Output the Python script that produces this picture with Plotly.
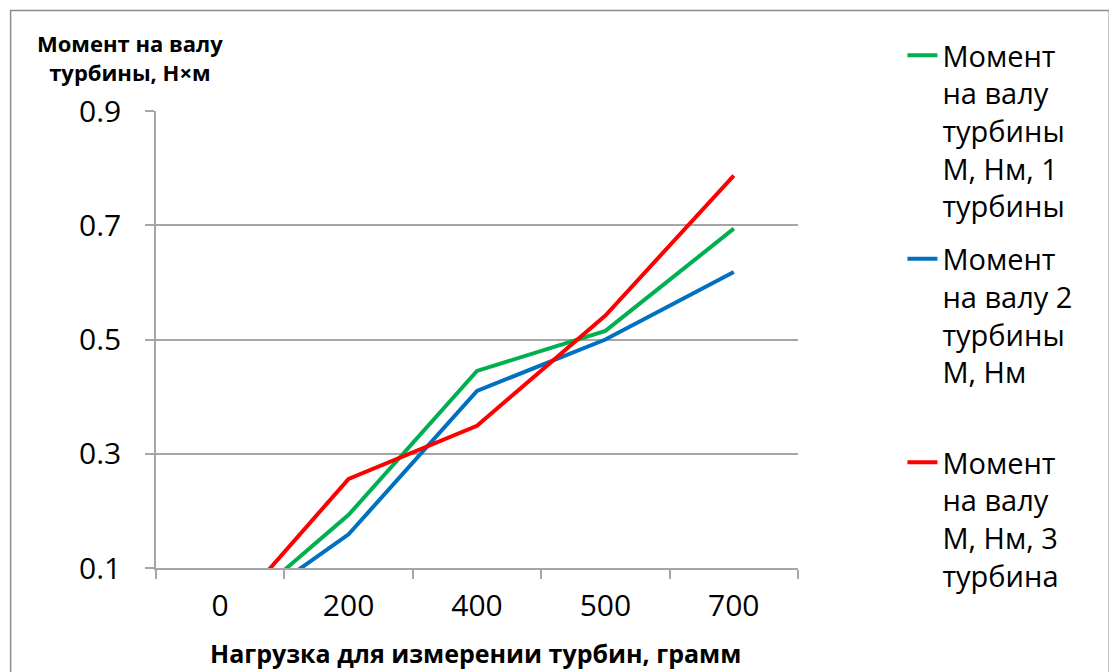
import plotly.graph_objects as go

# Load values (grams) and shaft torque readings (N·m) for the three turbines
loads = ["0", "200", "400", "500", "700"]
torque_t1 = [0.0, 0.193, 0.445, 0.515, 0.694]
torque_t2 = [0.0, 0.159, 0.410, 0.500, 0.618]
torque_t3 = [0.0, 0.256, 0.349, 0.542, 0.787]

series_names = [
    "Момент<br>на валу<br>турбины<br>М, Нм, 1<br>турбины",
    "Момент<br>на валу 2<br>турбины<br>М, Нм<br> ",
    "Момент<br>на валу<br>М, Нм, 3<br>турбина",
]
series_colors = ["#00B050", "#0070C0", "#FF0000"]
y_ticks = [0.1, 0.3, 0.5, 0.7, 0.9]

W, H = 1109, 672
L, R, T, B = 156, 310.5, 111, 104
plot_w = W - L - R
plot_h = H - T - B


def px_x(p):
    return (p - L) / plot_w


def px_y(p):
    return (H - B - p) / plot_h


fig = go.Figure()
for i, (vals, name, color) in enumerate(
    zip([torque_t1, torque_t2, torque_t3], series_names, series_colors)
):
    fig.add_trace(
        go.Scatter(
            x=loads,
            y=vals,
            mode="lines",
            name=name,
            legendgroup=f"g{i}",
            line=dict(color=color, width=4),
        )
    )

grid_color = "#A6A6A6"
tick_font = dict(family="Open Sans", size=30, color="#000000")

fig.update_layout(
    width=W,
    height=H,
    margin=dict(l=L, r=R, t=T, b=B),
    paper_bgcolor="white",
    plot_bgcolor="white",
    showlegend=True,
    legend=dict(
        x=px_x(903),
        y=px_y(30),
        xanchor="left",
        yanchor="top",
        valign="top",
        maxheight=660,
        font=dict(family="Open Sans", size=29, color="#000000"),
        tracegroupgap=12,
        bgcolor="rgba(0,0,0,0)",
    ),
    xaxis=dict(
        type="category",
        categoryorder="array",
        categoryarray=loads,
        range=[-0.5, 4.5],
        showgrid=False,
        showline=True,
        linecolor=grid_color,
        linewidth=1.5,
        ticks="outside",
        tickson="boundaries",
        ticklen=9,
        tickcolor=grid_color,
        tickwidth=1.5,
        tickfont=tick_font,
        ticklabelstandoff=10,
        zeroline=False,
    ),
    yaxis=dict(
        range=[0.1, 0.9],
        tickvals=y_ticks,
        ticktext=[f"{v:.1f}" for v in y_ticks],
        showgrid=True,
        gridcolor=grid_color,
        gridwidth=1.5,
        showline=True,
        linecolor=grid_color,
        linewidth=1.5,
        ticks="outside",
        ticklen=9,
        tickcolor=grid_color,
        tickwidth=1.5,
        tickfont=tick_font,
        ticklabelstandoff=18,
        zeroline=False,
    ),
    annotations=[
        dict(
            text="Момент на валу<br>турбины, Н×м",
            xref="paper",
            yref="paper",
            x=px_x(130),
            y=px_y(57),
            xanchor="center",
            yanchor="middle",
            showarrow=False,
            font=dict(family="Open Sans", size=22, color="#000000", weight=700),
        ),
        dict(
            text="Нагрузка для измерении турбин, грамм",
            xref="paper",
            yref="paper",
            x=px_x(476),
            y=px_y(653),
            xanchor="center",
            yanchor="middle",
            showarrow=False,
            font=dict(family="Open Sans", size=25, color="#000000", weight=700),
        ),
    ],
    shapes=[
        dict(
            type="rect",
            xref="paper",
            yref="paper",
            x0=px_x(10.5),
            x1=px_x(1110),
            y0=px_y(700),
            y1=px_y(10.5),
            line=dict(color="#8C8C8C", width=1.5),
            fillcolor="rgba(0,0,0,0)",
            layer="below",
        )
    ],
)

fig.write_html("out.html")
